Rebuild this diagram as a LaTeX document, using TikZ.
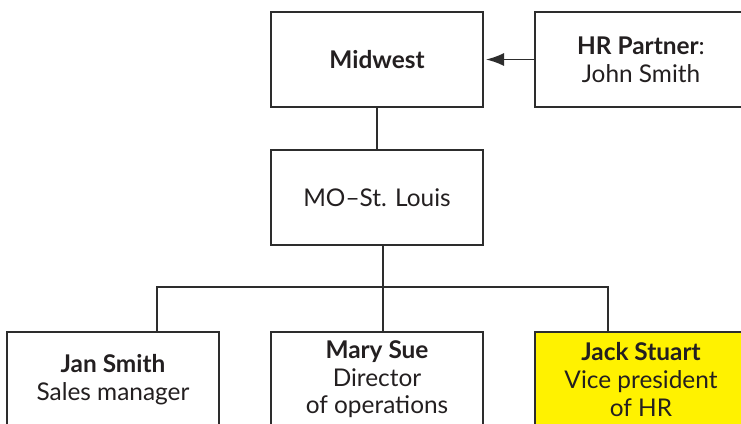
\documentclass[tikz,border=0pt]{standalone}
\usepackage{fontspec}
\setmainfont{Lato}
\usetikzlibrary{arrows.meta}
\definecolor{linecolor}{RGB}{45,45,45}
\definecolor{textcolor}{RGB}{35,31,32}
\definecolor{highlight}{RGB}{255,242,0}
\tikzset{
  unitbox/.style={draw=linecolor,line width=1pt,fill=white,minimum width=106pt,minimum height=47.5pt,
    inner sep=0pt,align=center,text=textcolor,font=\fontsize{12.2}{13.8}\selectfont},
  link/.style={draw=linecolor,line width=0.8pt},
}
\begin{document}
\begin{tikzpicture}[x=0.5pt,y=-0.5pt]
  \clip (0,0) rectangle (741,424);
  % top level
  \node[unitbox] (midwest) at (377,59.5) {\textbf{Midwest}};
  \node[unitbox] (partner) at (641,59.5) {\textbf{HR Partner}:\\John Smith};
  \node[unitbox] (stlouis) at (377,197.5) {MO–St. Louis};
  % staff
  \node[unitbox] (jan) at (113,379.5) {\textbf{Jan Smith}\\Sales manager};
  \node[unitbox] (mary) at (377,379.5) {\textbf{Mary Sue}\\Director\\of operations};
  \node[unitbox,fill=highlight] (jack) at (641,379.5) {\textbf{Jack Stuart}\\Vice president\\of HR};
  % branch points
  \coordinate (busL) at (157,287);
  \coordinate (busM) at (383,287);
  \coordinate (busR) at (608,287);
  % links
  \draw[link,-{Latex[length=9pt,width=6.5pt]},shorten >=1pt] (partner.west) -- (midwest.east);
  \draw[link] (midwest.south) -- (stlouis.north);
  \draw[link] (stlouis.south -| busM) -- (mary.north -| busM);
  \draw[link] (jan.north -| busL) -- (busL) -- (busR) -- (jack.north -| busR);
\end{tikzpicture}
\end{document}
